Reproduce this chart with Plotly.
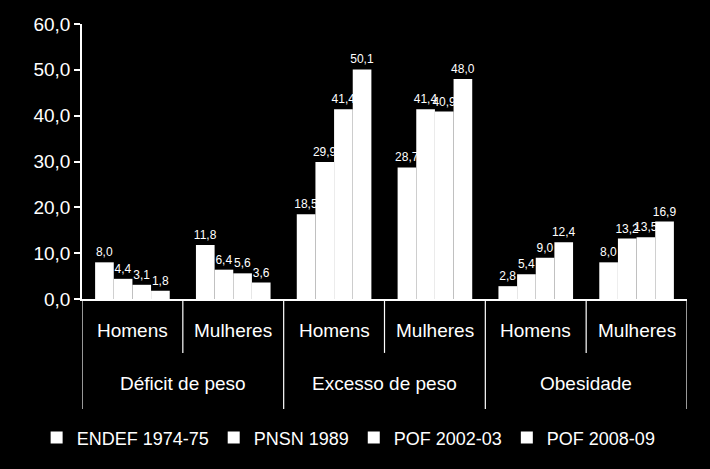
import plotly.graph_objects as go

groups = ["Déficit de peso", "Déficit de peso", "Excesso de peso", "Excesso de peso", "Obesidade", "Obesidade"]
sexes = ["Homens", "Mulheres", "Homens", "Mulheres", "Homens", "Mulheres"]

series_names = ["ENDEF 1974-75", "PNSN 1989", "POF 2002-03", "POF 2008-09"]
endef = [8.0, 11.8, 18.5, 28.7, 2.8, 8.0]
pnsn = [4.4, 6.4, 29.9, 41.4, 5.4, 13.2]
pof02 = [3.1, 5.6, 41.4, 40.9, 9.0, 13.5]
pof08 = [1.8, 3.6, 50.1, 48.0, 12.4, 16.9]
series_values = [endef, pnsn, pof02, pof08]

y_ticks = [0, 10, 20, 30, 40, 50, 60]

FONT = "Liberation Sans, Arial, sans-serif"
xpos = list(range(len(sexes)))

fig = go.Figure()
for name, vals in zip(series_names, series_values):
    fig.add_trace(go.Bar(
        name=name,
        x=xpos,
        y=vals,
        marker=dict(color="white", line=dict(width=0)),
        texttemplate="%{y:.1f}",
        textposition="outside",
        constraintext="none",
        textfont=dict(color="white", size=12, family=FONT),
        cliponaxis=False,
    ))

annotations = []
shapes = []
for i, s in enumerate(sexes):
    annotations.append(dict(
        x=i, xref="x", y=-0.116, yref="paper", text=s, showarrow=False,
        yanchor="middle", font=dict(size=19, color="white", family=FONT)))
uniq = []
for g in groups:
    if g not in uniq:
        uniq.append(g)
for g in uniq:
    idx = [i for i, gg in enumerate(groups) if gg == g]
    annotations.append(dict(
        x=sum(idx) / len(idx), xref="x", y=-0.309, yref="paper", text=g, showarrow=False,
        yanchor="middle", font=dict(size=19, color="white", family=FONT)))
for b in range(len(sexes) + 1):
    xb = b - 0.5
    outer = b == 0 or b == len(sexes) or groups[b - 1] != groups[b]
    shapes.append(dict(
        type="line", xref="x", yref="paper", x0=xb, x1=xb, y0=0,
        y1=-0.40 if outer else -0.196,
        line=dict(color="white", width=1.2)))

fig.update_layout(
    width=710, height=469,
    paper_bgcolor="black", plot_bgcolor="black",
    separators=",.",
    barmode="group",
    bargap=0.26, bargroupgap=0,
    margin=dict(l=82, r=23, t=24, b=170),
    font=dict(family=FONT, color="white", size=19),
    showlegend=True,
    legend=dict(
        orientation="h",
        xref="paper", yref="paper",
        x=-0.075, xanchor="left",
        y=-0.505, yanchor="middle",
        font=dict(size=18, color="white", family=FONT),
        itemwidth=30,
        traceorder="normal",
    ),
    annotations=annotations,
    shapes=shapes,
)

fig.update_yaxes(
    range=[0, 60],
    tickvals=y_ticks,
    tickformat=".1f",
    showgrid=False, zeroline=False,
    showline=True, linecolor="white", linewidth=1.5,
    ticks="outside", ticklen=6, tickcolor="white", tickwidth=1.5,
    tickfont=dict(size=19, color="white", family=FONT),
)

fig.update_xaxes(
    range=[-0.5, len(sexes) - 0.5],
    showgrid=False, zeroline=False,
    showticklabels=False, ticks="",
    showline=True, linecolor="white", linewidth=1.5,
)

fig.write_html("out.html")
